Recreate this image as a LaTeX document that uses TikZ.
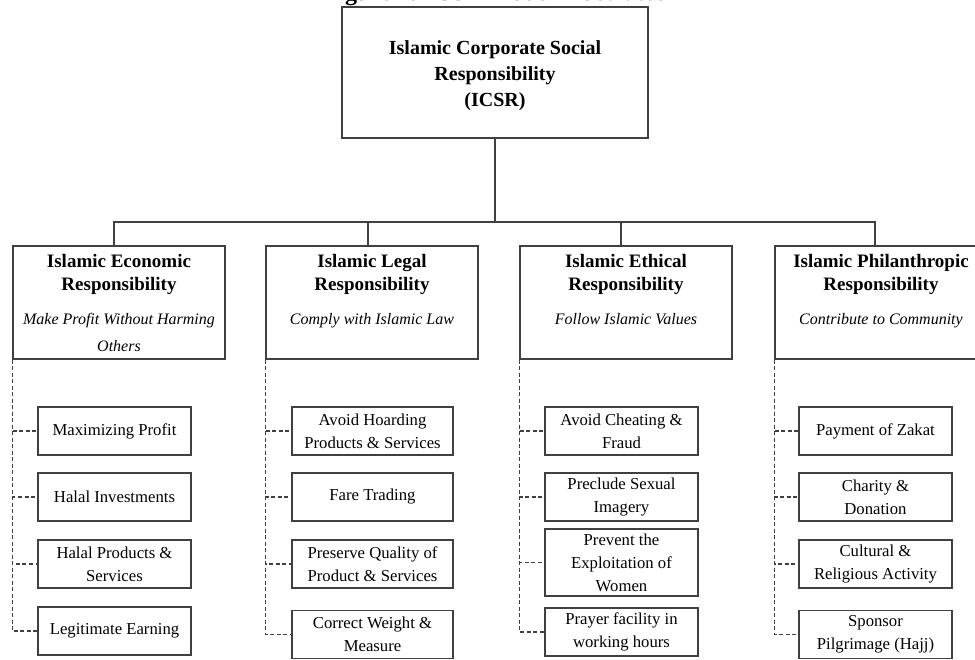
\documentclass[tikz,border=0pt]{standalone}
\usepackage{fontspec}
\setmainfont{Liberation Serif}

\begin{document}
\begin{tikzpicture}[x = 1pt, y = -1pt]
	\tikzstyle{lineStyle} = [line width = 1.3pt, black!75]
	\tikzstyle{dashStyle} = [dash pattern = on 4pt off 2.5pt, line width = 1.1pt, black!75]
	\tikzstyle{topStyle} = [draw, lineStyle, text = black, minimum width = 306, minimum height = 131, align = center, font = \fontsize{20}{26}\selectfont\bfseries]
	\tikzstyle{catStyle} = [draw, lineStyle, text = black, minimum width = 212, minimum height = 113, inner sep = 0pt]
	\tikzstyle{itemStyle} = [draw, lineStyle, text = black, minimum width = 153, minimum height = 48, align = center, inner sep = 1pt, font = \fontsize{16.7}{23}\selectfont]
	\newcommand{\catText}[2]{\parbox[c][97pt][t]{208pt}{\centering{\fontsize{19}{23}\selectfont\bfseries #1\par}\vspace{7pt}{\fontsize{16}{27}\selectfont\itshape #2\par}}}
	\clip (0, 0) rectangle (975, 659);
	\fill[white] (0, 0) rectangle (975, 659);
	\node[anchor = base, font = \fontsize{24}{24}\selectfont\bfseries] (fig) at (496, 0.8) {Figure 1: ICSR Model Illustrated};
	\node[topStyle] (icsr) at (495, 72.5) {\rule{0pt}{20pt}Islamic Corporate Social\\Responsibility\\(ICSR)};
	\coordinate (bus) at (495, 222);
	\node[catStyle] (eco) at (119, 302.5) {\catText{Islamic Economic\\Responsibility}{Make Profit Without Harming\\Others}};
	\node[catStyle] (leg) at (372, 302.5) {\catText{Islamic Legal\\Responsibility}{Comply with Islamic Law}};
	\node[catStyle] (eth) at (626, 302.5) {\catText{Islamic Ethical\\Responsibility}{Follow Islamic Values}};
	\node[catStyle] (phi) at (881, 302.5) {\catText{Islamic Philanthropic\\Responsibility}{Contribute to Community}};
	\node[itemStyle] (eco1) at (114.5, 431) {Maximizing Profit};
	\node[itemStyle] (eco2) at (114.5, 497) {Halal Investments};
	\node[itemStyle] (eco3) at (114.5, 564) {Halal Products \&\\Services};
	\node[itemStyle] (eco4) at (114.5, 631) {Legitimate Earning};
	\node[itemStyle, minimum width = 161] (leg1) at (372.5, 431) {Avoid Hoarding\\Products \& Services};
	\node[itemStyle, minimum width = 161] (leg2) at (372.5, 497) {Fare Trading};
	\node[itemStyle, minimum width = 161] (leg3) at (372.5, 564) {Preserve Quality of\\Product \& Services};
	\node[itemStyle, minimum width = 161] (leg4) at (372.5, 634.5) {Correct Weight \&\\Measure};
	\node[itemStyle] (eth1) at (621.5, 431) {Avoid Cheating \&\\Fraud};
	\node[itemStyle] (eth2) at (621.5, 497) {Preclude Sexual\\Imagery};
	\node[itemStyle, minimum height = 67] (eth3) at (621.5, 562.5) {Prevent the\\Exploitation of\\Women};
	\node[itemStyle] (eth4) at (621.5, 632) {Prayer facility in\\working hours};
	\node[itemStyle] (phi1) at (875.5, 431) {Payment of Zakat};
	\node[itemStyle] (phi2) at (875.5, 497) {Charity \&\\Donation};
	\node[itemStyle] (phi3) at (875.5, 564) {Cultural \&\\Religious Activity};
	\node[itemStyle] (phi4) at (875.5, 634.5) {Sponsor\\Pilgrimage (Hajj)};
	\draw[lineStyle] (icsr.south) -- (bus);
	\draw[lineStyle] (bus) -| ([xshift = -5pt]eco.north);
	\draw[lineStyle] (bus) -| ([xshift = -4pt]leg.north);
	\draw[lineStyle] (bus) -| ([xshift = -5pt]eth.north);
	\draw[lineStyle] (bus) -| ([xshift = -6pt]phi.north);
	\foreach \cat in {eco, leg, eth, phi}
		\foreach \i in {1, 2, 3, 4}
			\draw[dashStyle] (\cat.south west) |- (\cat\i.west);
\end{tikzpicture}
\end{document}
